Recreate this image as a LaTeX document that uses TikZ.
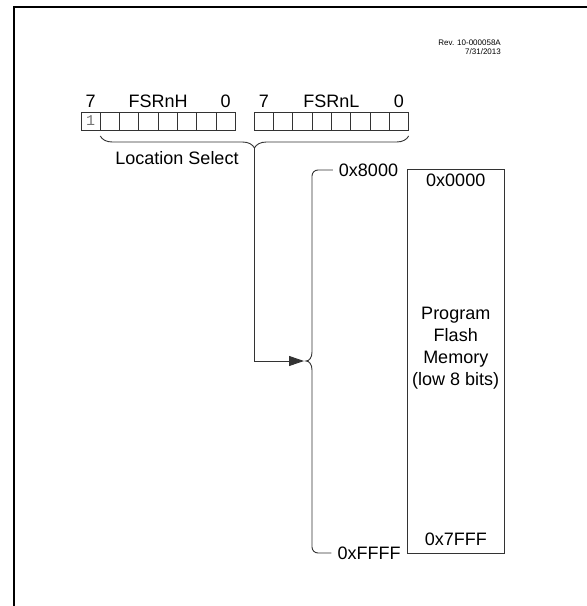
\documentclass[tikz,border=0pt]{standalone}
\usepackage{fontspec}
\setmainfont{Liberation Sans}
\newfontfamily\bitfont{Liberation Mono}
\usetikzlibrary{positioning,arrows.meta,decorations.pathreplacing,calc}

\begin{document}
\begin{tikzpicture}[
  x=1bp, y=-1bp,
  font=\fontsize{18bp}{22bp}\selectfont,
  lbl/.style   = {inner sep=0pt},
  rev/.style   = {font=\fontsize{8bp}{9bp}\selectfont, align=right, inner sep=0pt},
  cell/.style  = {draw=black!80, line width=0.9bp, minimum width=19.3bp,
                  minimum height=18bp, inner sep=0pt, outer sep=0pt},
  bitv/.style  = {font=\bitfont\fontsize{15bp}{15bp}\selectfont, text=black!55,
                  inner sep=0pt},
  mem/.style   = {draw=black!80, line width=0.9bp, minimum width=96.5bp,
                  minimum height=383.5bp, inner sep=0pt},
  brc/.style   = {draw=black!80, line width=0.9bp},
  fl/.style    = {-{Triangle[length=15bp,width=10bp]}, draw=black!80, line width=0.9bp},
  frame/.style = {line width=2bp},
]
\useasboundingbox (0,0) rectangle (587,606);

% ---------------- frame and revision -----------------------------------
\draw[frame] (587,7.5) -- (14,7.5) -- (14,606);
\node[rev, anchor=east] (rv) at (501,47.5) {Rev. 10-000058A\\7/31/2013};

% ---------------- FSRnH / FSRnL registers ------------------------------
\foreach \i in {1,...,8} {
  \node[cell] (h\i) at ({81+(\i-0.5)*19.3}, 121) {};
  \node[cell] (l\i) at ({254.2+(\i-0.5)*19.3}, 121) {};
}
\node[bitv] (b1) at (h1) {1};

\coordinate (hmid) at ($(h4.north)!0.5!(h5.north)$);
\coordinate (lmid) at ($(l4.north)!0.5!(l5.north)$);
\node[lbl, above=4bp of h1]   (hmsb)  {7};
\node[lbl, above=4bp of hmid] (hname) {FSRnH};
\node[lbl, above=4bp of h8]   (hlsb)  {0};
\node[lbl, above=4bp of l1]   (lmsb)  {7};
\node[lbl, above=4bp of lmid] (lname) {FSRnL};
\node[lbl, above=4bp of l8]   (llsb)  {0};

% location select brace
\draw[brc, decorate, decoration={brace, amplitude=12bp, raise=6bp}]
  (l8.south east) -- (h2.south west);
\coordinate (sel) at ($(h2.south west)!0.5!(l8.south east)+(0,18)$);
\node[lbl] (locsel) at (177,158) {Location Select};

% ---------------- program flash memory ---------------------------------
\node[mem] (mem) at (455.75,361.25) {};
\node[lbl, below=5bp of mem.north] (first) {0x0000};
\node[lbl, above=8bp of mem.south] (last)  {0x7FFF};
\node[lbl, align=center] (pfm) at (455.75,348)
  {Program\\Flash\\Memory\\(low 8 bits)};

% ---------------- address range bracket --------------------------------
\node[lbl] (hi) at (368.5,170) {0x8000};
\node[lbl] (lo) at (369,553)   {0xFFFF};
\coordinate (rng) at (306,361);
\draw[brc] ([xshift=-6bp]hi.west) -- (318,170)
  .. controls (314.7,170) and (312,172.7) .. (312,176) -- (312,352)
  .. controls (312,358) and (309,361) .. (rng)
  .. controls (309,361) and (312,364) .. (312,370) -- (312,547)
  .. controls (312,550.3) and (314.7,553) .. (318,553)
  -- ([xshift=-6bp]lo.west);

% ---------------- edges -------------------------------------------------
\draw[fl, shorten >=2bp] (sel) |- (rng);

\end{tikzpicture}
\end{document}
